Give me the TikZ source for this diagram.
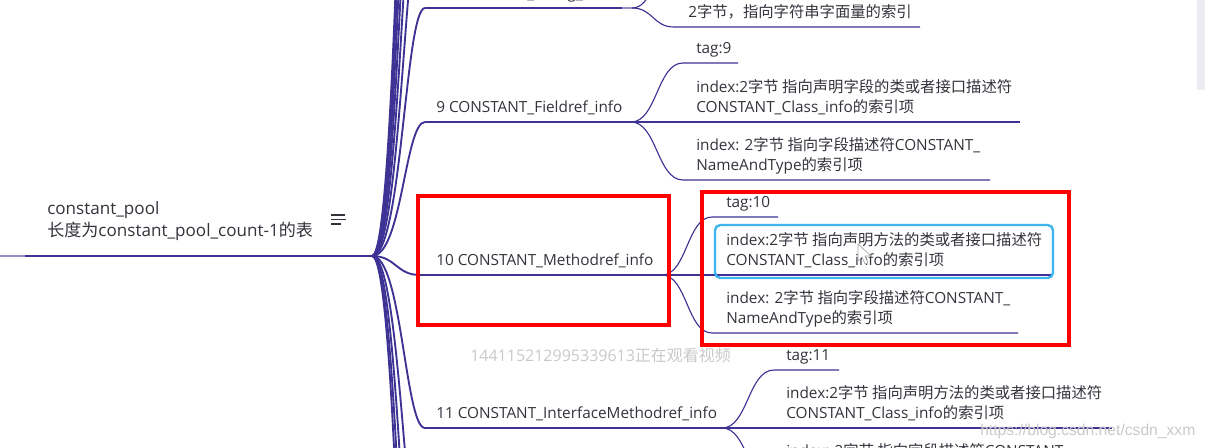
\documentclass[tikz,border=0pt]{standalone}
\usepackage{fontspec}
\setmainfont{Open Sans}
\newfontfamily\cjkfont{Noto Sans CJK SC}
\newfontfamily\wmfont{Liberation Sans}
\newcommand\zhs[1]{{\cjkfont #1}}
\definecolor{mainline}{RGB}{62,50,148}
\definecolor{fadedline}{RGB}{150,140,205}
\definecolor{txtc}{RGB}{51,51,60}
\definecolor{hlblue}{RGB}{62,180,240}
\definecolor{boxred}{RGB}{255,0,0}
\definecolor{scrollc}{RGB}{236,236,242}
\tikzset{
  lvone/.style={line width=2.2pt, draw=mainline},
  hubcurve/.style={line width=1.4pt, draw=mainline},
  lvtwo/.style={line width=0.85pt, draw=mainline},
  txt/.style={anchor=base west, inner sep=0pt, text=txtc, font=\fontsize{11.5pt}{15pt}\selectfont},
  roottxt/.style={txt, font=\fontsize{12.8pt}{15pt}\selectfont},
  redbox/.style={draw=boxred, line width=2.4pt},
  wmark/.style={anchor=base west, inner sep=0pt, text=gray!42},
}
\begin{document}
\begin{tikzpicture}[x=0.75pt,y=-0.75pt]
\useasboundingbox (0,0) rectangle (1205,447);
\clip (0,0) rectangle (1205,447);
% scrollbar
\fill[scrollc] (1197,0) rectangle (1205,90);

% ---------- root ----------
\coordinate (rootL) at (0,256);
\coordinate (hub) at (372,256);
\draw[lvone] (rootL) -- (hub);
\draw[line width=2.2pt, draw=fadedline] (rootL) -- (25,256);
\node[roottxt] (root1) at (47,214) {constant\_pool};
\node[roottxt] (root2) at (47,236) {\zhs{长度为}constant\_pool\_count-1\zhs{的表}};
\draw[line width=0.9pt, draw=txtc] (331,215) -- (345,215) (331,219.5) -- (346,219.5) (331,224) -- (341,224);

% ---------- hub curves ----------
\foreach \ty in {-676,-562,-448,-334,-220,-106,8,122,428,582,736,890,1044}{
  \draw[hubcurve] (hub) .. controls +(30,0) and +(-20,0) .. (425,\ty);
}
\coordinate (mS) at (420,275);
\draw[hubcurve] (hub) .. controls +(24,0) and +(-24,0) .. (mS);

% ---------- 8 String ----------
\coordinate (sA) at (425,8); \coordinate (sB) at (622,8); \coordinate (sJ) at (632,8);
\draw[lvone] (sA) -- (sB);
\draw[lvtwo, draw=fadedline] (sB) -- (sJ);
\node[txt] (sT) at (436,-2) {8 CONSTANT\_String\_info};
\coordinate (s1) at (672,-28); \coordinate (s1e) at (728,-28);
\coordinate (s2) at (674,27); \coordinate (s2e) at (920,27);
\draw[lvtwo] (sJ) .. controls +(20,0) and +(-20,0) .. (s1) -- (s1e);
\draw[lvtwo] (sJ) .. controls +(21,0) and +(-21,0) .. (s2) -- (s2e);
\node[txt] (s2T) at (688,17) {2\zhs{字节，指向字符串字面量的索引}};

% ---------- 9 Fieldref ----------
\coordinate (fA) at (425,122); \coordinate (fB) at (631,122);
\draw[lvone] (fA) -- (fB);
\node[txt] (fT) at (436,112) {9 CONSTANT\_Fieldref\_info};
\coordinate (f1) at (683,63); \coordinate (f1e) at (738,63);
\coordinate (f2e) at (1020,122);
\coordinate (f3) at (683,180); \coordinate (f3e) at (990,180);
\draw[lvtwo] (fB) .. controls +(26,0) and +(-26,0) .. (f1) -- (f1e);
\draw[lvtwo] (fB) -- (f2e);
\draw[lvtwo] (fB) .. controls +(26,0) and +(-26,0) .. (f3) -- (f3e);
\node[txt] (f1T) at (696,53) {tag:9};
\node[txt] (f2T) at (696,92) {index:2\zhs{字节 指向声明字段的类或者接口描述符}};
\node[txt] (f2U) at (696,112) {CONSTANT\_Class\_info\zhs{的索引项}};
\node[txt] (f3T) at (696,150) {index: 2\zhs{字节 指向字段描述符}CONSTANT\_};
\node[txt] (f3U) at (696,170) {NameAndType\zhs{的索引项}};

% ---------- 10 Methodref ----------
\coordinate (mB) at (662,275);
\draw[lvone] (mS) -- (mB);
\node[txt] (mT) at (436,265) {10 CONSTANT\_Methodref\_info};
\coordinate (m1) at (712,217); \coordinate (m1e) at (778,217);
\coordinate (m2e) at (1052,275);
\coordinate (m3) at (712,333); \coordinate (m3e) at (1018,333);
\draw[lvtwo] (mB) .. controls +(25,0) and +(-25,0) .. (m1) -- (m1e);
\draw[lvtwo] (mB) -- (m2e);
\draw[lvtwo] (mB) .. controls +(25,0) and +(-25,0) .. (m3) -- (m3e);
\node[txt] (m1T) at (726,207) {tag:10};
\node[txt] (m2T) at (726,245) {index:2\zhs{字节 指向声明方法的类或者接口描述符}};
\node[txt] (m2U) at (726,265) {CONSTANT\_Class\_info\zhs{的索引项}};
\node[txt] (m3T) at (726,303) {index: 2\zhs{字节 指向字段描述符}CONSTANT\_};
\node[txt] (m3U) at (726,323) {NameAndType\zhs{的索引项}};

% ---------- 11 InterfaceMethodref ----------
\coordinate (iA) at (425,428); \coordinate (iB) at (722,428);
\draw[lvone] (iA) -- (iB);
\node[txt] (iT) at (436,418) {11 CONSTANT\_InterfaceMethodref\_info};
\coordinate (i1) at (774,370); \coordinate (i1e) at (839,370);
\coordinate (i2e) at (1112,428);
\coordinate (i3) at (774,486); \coordinate (i3e) at (1080,486);
\draw[lvtwo] (iB) .. controls +(26,0) and +(-26,0) .. (i1) -- (i1e);
\draw[lvtwo] (iB) -- (i2e);
\draw[lvtwo] (iB) .. controls +(26,0) and +(-26,0) .. (i3) -- (i3e);
\node[txt] (i1T) at (786,360) {tag:11};
\node[txt] (i2T) at (786,398) {index:2\zhs{字节 指向声明方法的类或者接口描述符}};
\node[txt] (i2U) at (786,418) {CONSTANT\_Class\_info\zhs{的索引项}};
\node[txt] (i3T) at (786,456) {index: 2\zhs{字节 指向字段描述符}CONSTANT\_};

% ---------- highlights ----------
\draw[draw=hlblue, line width=1.8pt, rounded corners=4pt] (715,225) rectangle (1053,278);
\draw[redbox] (418,196) rectangle (669,325);
\draw[redbox] (702,192) rectangle (1069,345);

% cursor
\filldraw[fill=white, draw=gray!70, line width=0.5pt]
  (858,244) -- (858,261) -- (862,257) -- (865,264) -- (868,263) -- (865,256) -- (871,256) -- cycle;

% watermarks
\node[wmark, font=\fontsize{12pt}{14pt}\selectfont] (wm1) at (470,361) {144115212995339613\zhs{正在观看视频}};
\node[wmark, font=\wmfont\fontsize{11.75pt}{14pt}\selectfont] (wm2) at (980,435) {https://blog.csdn.net/csdn\_xxm};
\end{tikzpicture}
\end{document}
